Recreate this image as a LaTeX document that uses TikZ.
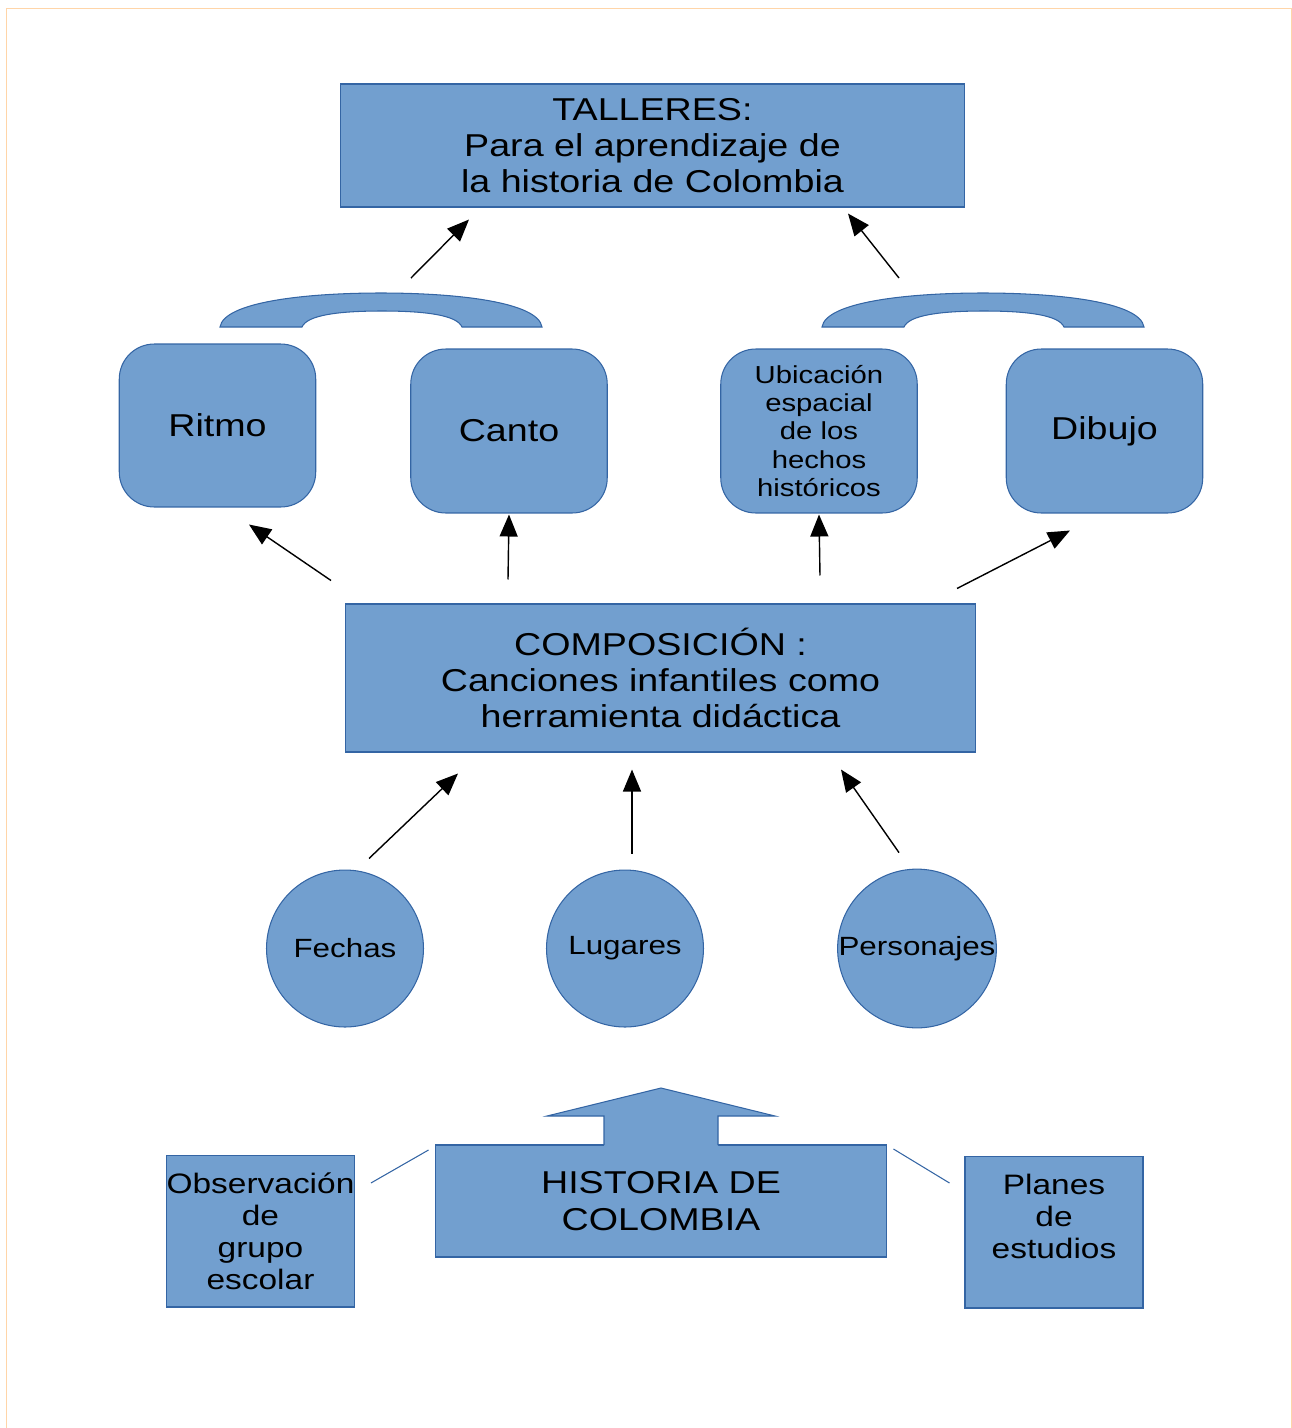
\documentclass[tikz,border=0pt]{standalone}
\usepackage{fontspec}
\setmainfont{Liberation Sans}[FakeStretch=1.19]
\usetikzlibrary{arrows.meta, calc, shapes.geometric}

\definecolor{boxfill}{HTML}{729FCF}
\definecolor{boxline}{HTML}{3465A4}
\definecolor{pageline}{HTML}{FFD5A8}

\begin{document}
\begin{tikzpicture}[x=0.02cm, y=-0.02cm, >={Triangle[length=0.44cm, width=0.36cm]},
    box/.style={draw=boxline, fill=boxfill, line width=0.6pt, align=center, inner sep=0pt},
    bigbox/.style={box, font=\fontsize{18}{20.7}\selectfont},
    roundbox/.style={box, rounded corners=0.7cm, minimum width=3.93cm, minimum height=3.28cm},
    topic/.style={box, circle, minimum size=3.14cm, font=\fontsize{15}{17}\selectfont},
    sidebox/.style={box, minimum height=3.04cm, font=\fontsize{16}{18.2}\selectfont},
    arr/.style={->, line width=0.8pt},
    link/.style={boxline, line width=0.6pt}]
    \useasboundingbox (0,0) rectangle (1292,1428);

    % Page frame
    \draw[pageline, line width=0.6pt] (6.5,1428) -- (6.5,8.3) -- (1291.5,8.3) -- (1291.5,1428);

    % Top box
    \node[bigbox, minimum width=12.5cm, minimum height=2.46cm] (talleres) at (652.5,145.5)
        {TALLERES:\\Para el aprendizaje de\\la historia de Colombia};

    % Arcs over the pairs
    \foreach \dx in {0,602} {
        \filldraw[draw=boxline, fill=boxfill, line width=0.6pt, shift={(\dx,0)}]
            (220,327) .. controls (224,302) and (305,293) .. (381,293)
            .. controls (457,293) and (538,302) .. (542,327) -- (462,327)
            .. controls (457,315) and (425,311) .. (382,311)
            .. controls (339,311) and (307,315) .. (302,327) -- cycle;
    }
    \coordinate (arcleft) at (381,293);
    \coordinate (arcright) at (983,293);

    % Workshops
    \node[roundbox, font=\fontsize{18}{20.7}\selectfont, minimum height=3.26cm] (ritmo) at (217.5,425.5) {Ritmo};
    \node[roundbox, font=\fontsize{18}{20.7}\selectfont] (canto) at (509,431) {Canto};
    \node[roundbox, font=\fontsize{14}{16}\selectfont] (ubicacion) at (819,431)
        {Ubicación\\espacial\\de los\\hechos\\históricos};
    \node[roundbox, font=\fontsize{18}{20.7}\selectfont] (dibujo) at (1104.5,431) {Dibujo};

    % Middle box
    \node[bigbox, minimum width=12.62cm, minimum height=2.96cm] (composicion) at (660.5,678)
        {COMPOSICIÓN :\\Canciones infantiles como\\herramienta didáctica};

    % Topics
    \node[topic] (fechas) at (345,948.5) {Fechas};
    \node[topic] (lugares) at (625,948.5) {Lugares};
    \node[topic] (personajes) at (917,948.5) {Personajes};

    % Bottom boxes
    \node[bigbox, minimum width=9.04cm, minimum height=2.24cm] (historia) at (661,1201)
        {HISTORIA DE\\COLOMBIA};
    \fill[boxfill] (661,1088) -- (775,1116) -- (718,1116) -- (718,1147) -- (604,1147) -- (604,1116) -- (547,1116) -- cycle;
    \draw[boxline, line width=0.6pt] (604,1145) -- (604,1116) -- (547,1116) -- (661,1088)
        -- (775,1116) -- (718,1116) -- (718,1145);
    \node[sidebox, minimum width=3.74cm] (observacion) at (260.5,1231)
        {Observación\\de\\grupo\\escolar};
    \node[sidebox, minimum width=3.56cm] (planes) at (1054,1232) {};
    \node[align=center, inner sep=0pt, font=\fontsize{16}{18.2}\selectfont] (planestxt) at (1054,1216)
        {Planes\\de\\estudios};

    % Arrows
    \draw[arr] ($(arcleft)+(30,-15)$) -- ($(talleres.south)+(-183.5,12)$);
    \draw[arr] ($(arcright)+(-84,-15)$) -- ($(talleres.south)+(195.5,6)$);
    \draw[arr] ($(composicion.north)+(-329.5,-23)$) -- ($(ritmo.south)+(31.5,17)$);
    \draw[arr] ($(composicion.north)+(-152.5,-24)$) -- ($(canto.south)+(0,1)$);
    \draw[arr] ($(composicion.north)+(159.5,-28)$) -- ($(ubicacion.south)+(0,1)$);
    \draw[arr] ($(composicion.north)+(296.5,-15)$) -- ($(dibujo.south)+(-34.5,17)$);
    \draw[arr] ($(fechas.north)+(24,-11)$) -- ($(composicion.south)+(-202.5,21)$);
    \draw[arr] ($(lugares.north)+(7,-16)$) -- ($(composicion.south)+(-28.5,17)$);
    \draw[arr] ($(personajes.north)+(-18,-16)$) -- ($(composicion.south)+(180.5,17)$);

    % Side links
    \draw[link] ($(observacion.east)+(16,-48)$) -- ($(historia.west)+(-6,-51)$);
    \draw[link] ($(historia.east)+(6,-52)$) -- ($(planes.west)+(-15,-49)$);
\end{tikzpicture}
\end{document}
